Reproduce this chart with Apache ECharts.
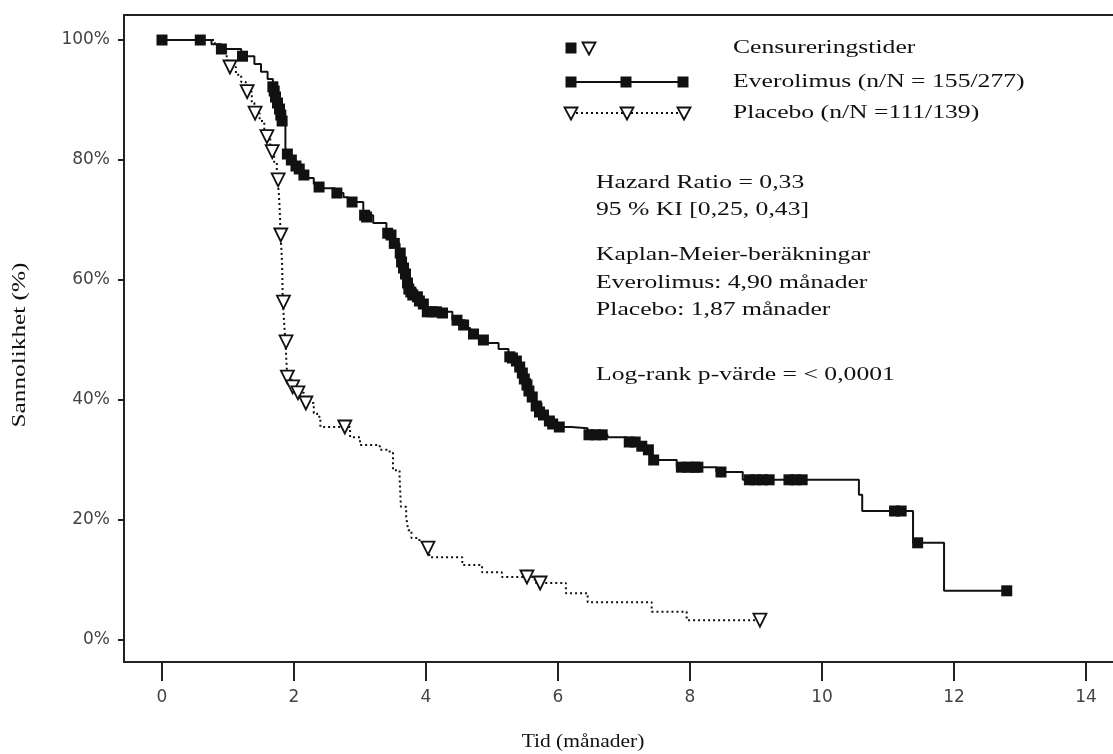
<!DOCTYPE html>
<html>
<head>
<meta charset="utf-8">
<script src="https://cdn.jsdelivr.net/npm/echarts@6/dist/echarts.min.js"></script>
<style>
html,body{margin:0;padding:0;background:#fff;}
#chart{width:1113px;height:754px;}
</style>
</head>
<body>
<div id="chart"></div>
<script>
// ---- Data ----
const xTicks = [0, 2, 4, 6, 8, 10, 12, 14];
const yTicks = [0, 20, 40, 60, 80, 100];

// Everolimus Kaplan-Meier steps: time (months), survival (%)
const evTime = [0, 0.75, 0.9, 1.2, 1.4, 1.5, 1.6, 1.68, 1.72, 1.76, 1.8, 1.83, 1.87, 1.88, 1.95, 2.03, 2.1, 2.15, 2.3, 2.4, 2.62, 2.75, 2.82, 3.05, 3.2, 3.4, 3.5, 3.6, 3.65, 3.7, 3.75, 3.85, 3.95, 4.0, 4.4, 4.6, 4.67, 4.92, 5.1, 5.25, 5.35, 5.45, 5.5, 5.58, 5.65, 5.75, 5.85, 5.98, 6.2, 6.45, 6.75, 7.05, 7.3, 7.42, 7.8, 8.4, 8.8, 10.56, 10.61, 11.38, 11.85, 12.8];
const evSurv = [100, 99.3, 98.5, 97.3, 96, 94.7, 93.5, 92.2, 90.5, 89, 87.5, 86, 82.2, 81, 80, 79, 77.8, 77, 76, 75.3, 74.5, 73.8, 73, 70.8, 69.5, 67.8, 66.1, 64.5, 62.8, 60, 58.5, 57.2, 56, 54.7, 53.3, 52, 50.5, 49.5, 48.5, 47.2, 46, 44.5, 43.5, 41.2, 39.5, 37.8, 36.5, 35.5, 35.3, 34.2, 33.8, 32.8, 31.7, 30, 28.8, 28, 26.7, 24.2, 21.5, 16.2, 8.2, 8.2];
// Everolimus censoring times
const evCensT = [0, 0.58, 0.9, 1.22, 1.68, 1.7, 1.72, 1.75, 1.78, 1.8, 1.82, 1.9, 1.96, 2.03, 2.08, 2.15, 2.38, 2.65, 2.88, 3.07, 3.1, 3.42, 3.47, 3.52, 3.61, 3.63, 3.66, 3.69, 3.72, 3.74, 3.77, 3.8, 3.87, 3.9, 3.96, 4.02, 4.09, 4.16, 4.25, 4.47, 4.57, 4.72, 4.87, 5.27, 5.31, 5.37, 5.42, 5.46, 5.49, 5.53, 5.56, 5.61, 5.67, 5.72, 5.78, 5.87, 5.92, 6.02, 6.47, 6.57, 6.67, 7.08, 7.17, 7.27, 7.37, 7.45, 7.87, 7.97, 8.07, 8.12, 8.47, 8.9, 9.0, 9.1, 9.2, 9.5, 9.6, 9.7, 11.1, 11.2, 11.45, 12.8];
const evCensS = [100, 100, 98.5, 97.3, 92.2, 91.5, 90.5, 89.5, 88.5, 87.5, 86.5, 81, 80, 79, 78.5, 77.5, 75.5, 74.5, 73, 70.8, 70.5, 67.8, 67.5, 66.1, 64.5, 63, 62, 61, 59.5, 58.5, 58, 57.5, 57.2, 56.5, 56, 54.7, 54.7, 54.7, 54.5, 53.3, 52.5, 51, 50, 47.2, 47, 46.5, 45.5, 44.5, 43.5, 42.5, 41.5, 40.5, 39, 38, 37.5, 36.5, 36, 35.5, 34.2, 34.2, 34.2, 33, 33, 32.3, 31.7, 30, 28.8, 28.8, 28.8, 28.8, 28, 26.7, 26.7, 26.7, 26.7, 26.7, 26.7, 26.7, 21.5, 21.5, 16.2, 8.2];

// Placebo Kaplan-Meier steps
const plTime = [0, 0.8, 0.9, 0.98, 1.02, 1.12, 1.2, 1.27, 1.36, 1.4, 1.48, 1.55, 1.58, 1.64, 1.66, 1.7, 1.74, 1.75, 1.77, 1.78, 1.79, 1.795, 1.81, 1.82, 1.825, 1.83, 1.85, 1.87, 1.88, 1.89, 1.9, 1.96, 2.04, 2.15, 2.3, 2.35, 2.4, 2.85, 3.0, 3.3, 3.45, 3.5, 3.6, 3.62, 3.7, 3.73, 3.78, 3.9, 4.0, 4.05, 4.55, 4.85, 5.15, 5.65, 6.12, 6.45, 7.42, 7.95, 9.06];
const plSurv = [100, 99.2, 98, 96.6, 95.5, 94.2, 93, 91.4, 89.5, 87.8, 86.5, 85, 83.9, 82.6, 81.4, 79.5, 78, 76.7, 74.5, 72.5, 70, 67.5, 65, 62.5, 59.5, 56.3, 53, 49.7, 47.5, 45.5, 43.8, 42.2, 41.2, 39.5, 37.8, 37.2, 35.5, 33.8, 32.5, 31.7, 31.2, 28.3, 27.2, 22.2, 20.5, 18.3, 17, 16.3, 15.3, 13.8, 12.5, 11.3, 10.5, 9.5, 7.8, 6.3, 4.7, 3.3, 3.3];
// Placebo censoring times
const plCensT = [1.03, 1.29, 1.41, 1.59, 1.67, 1.76, 1.8, 1.84, 1.88, 1.9, 1.98, 2.06, 2.18, 2.77, 4.03, 5.53, 5.73, 9.06];
const plCensS = [95.5, 91.4, 87.8, 83.9, 81.4, 76.7, 67.5, 56.3, 49.7, 43.8, 42.2, 41.2, 39.5, 35.5, 15.3, 10.5, 9.5, 3.3];

const legendTexts = ['Censureringstider', 'Everolimus (n/N = 155/277)', 'Placebo (n/N =111/139)'];
const annotTexts = ['Hazard Ratio = 0,33', '95 % KI [0,25, 0,43]', 'Kaplan-Meier-beräkningar', 'Everolimus: 4,90 månader', 'Placebo: 1,87 månader', 'Log-rank p-värde = < 0,0001'];
const xTitle = 'Tid (månader)';
const yTitle = 'Sannolikhet (%)';

// ---- Build ----
const zip = (a, b) => a.map((v, i) => [v, b[i]]);
const SERIF = '"Liberation Serif", "Times New Roman", serif';
const SANS = '"DejaVu Sans", sans-serif';
const INK = '#111';
const AX = '#222';

const chart = echarts.init(document.getElementById('chart'), null, {renderer: 'canvas'});

const txt = (t, x, y, size, sx, extra) => Object.assign({
  type: 'text', x: x, y: y, scaleX: sx, z: 20,
  style: {text: t, x: 0, y: 0, font: size + 'px ' + SERIF, fill: INK,
          verticalAlign: 'middle', textVerticalAlign: 'middle'}
}, extra || {});

const graphics = [];
const annotY = [183, 210, 255, 283, 310, 375];
annotTexts.forEach((t, i) => graphics.push(txt(t, 596, annotY[i], 19, 1.35)));
const legY = [48, 82, 113];
legendTexts.forEach((t, i) => graphics.push(txt(t, 733, legY[i], 19, 1.35)));
// axis titles
const xt = txt(xTitle, 583, 742, 19, 1.13);
xt.style.align = 'center'; xt.style.textAlign = 'center';
graphics.push(xt);
const yt = txt(yTitle, 20, 345, 19, 1.33, {rotation: Math.PI / 2});
yt.style.align = 'center'; yt.style.textAlign = 'center';
graphics.push(yt);

// legend symbols
const sq = (cx, cy) => ({type: 'rect', shape: {x: cx - 5.5, y: cy - 5.5, width: 11, height: 11}, style: {fill: INK}, z: 10});
const tri = (cx, cy) => ({type: 'polygon', shape: {points: [[cx - 6.5, cy - 5.5], [cx + 6.5, cy - 5.5], [cx, cy + 6.5]]}, style: {fill: '#fff', stroke: INK, lineWidth: 1.8}, z: 10});
graphics.push(sq(571, 48), tri(589, 48));
graphics.push({type: 'line', shape: {x1: 571, y1: 82, x2: 683, y2: 82}, style: {stroke: INK, lineWidth: 2}});
graphics.push(sq(571, 82), sq(626, 82), sq(683, 82));
graphics.push({type: 'line', shape: {x1: 571, y1: 113, x2: 683, y2: 113}, style: {stroke: INK, lineWidth: 2, lineDash: [2, 3]}});
graphics.push(tri(571, 113), tri(627, 113), tri(684, 113));

// Axis extent: the frame starts a little before 0 and below 0%
const X_MIN = -0.5758, X_MAX = 14.41;
const Y_MIN = -3.667, Y_MAX = 104.17;

const option = {
  animation: false,
  backgroundColor: '#fff',
  grid: {left: 124, right: 0, top: 15, bottom: 92},
  xAxis: [
    {
      type: 'value', min: X_MIN, max: X_MAX, position: 'bottom',
      axisLine: {show: true, onZero: false, lineStyle: {color: AX, width: 2}},
      axisTick: {show: true, customValues: xTicks, length: 19, lineStyle: {color: AX, width: 2}},
      axisLabel: {customValues: xTicks, margin: 27, color: '#444', fontSize: 17, fontFamily: SANS},
      splitLine: {show: false}
    },
    {
      type: 'value', min: X_MIN, max: X_MAX, position: 'top',
      axisLine: {show: true, onZero: false, lineStyle: {color: AX, width: 2}},
      axisTick: {show: false}, axisLabel: {show: false}, splitLine: {show: false}
    }
  ],
  yAxis: [
    {
      type: 'value', min: Y_MIN, max: Y_MAX, position: 'left',
      axisLine: {show: true, onZero: false, lineStyle: {color: AX, width: 2}},
      axisTick: {show: true, customValues: yTicks, length: 6, lineStyle: {color: AX, width: 2}},
      axisLabel: {customValues: yTicks, margin: 14, color: '#444', fontSize: 17, fontFamily: SANS, formatter: '{value}%'},
      splitLine: {show: false}
    }
  ],
  series: [
    {
      name: 'Everolimus', type: 'line', step: 'end',
      data: zip(evTime, evSurv), showSymbol: false, symbol: 'none',
      lineStyle: {color: INK, width: 2}, z: 3
    },
    {
      name: 'Placebo', type: 'line', step: 'end',
      data: zip(plTime, plSurv), showSymbol: false, symbol: 'none',
      lineStyle: {color: INK, width: 2, type: [2, 3]}, z: 3
    },
    {
      name: 'Placebo censur', type: 'scatter',
      data: zip(plCensT, plCensS), symbol: 'triangle', symbolRotate: 180, symbolSize: 13,
      itemStyle: {color: '#fff', borderColor: INK, borderWidth: 1.8, opacity: 1}, z: 5
    },
    {
      name: 'Everolimus censur', type: 'scatter',
      data: zip(evCensT, evCensS), symbol: 'rect', symbolSize: 11,
      itemStyle: {color: INK, opacity: 1}, z: 6
    }
  ],
  graphic: graphics
};
chart.setOption(option);
</script>
</body>
</html>
